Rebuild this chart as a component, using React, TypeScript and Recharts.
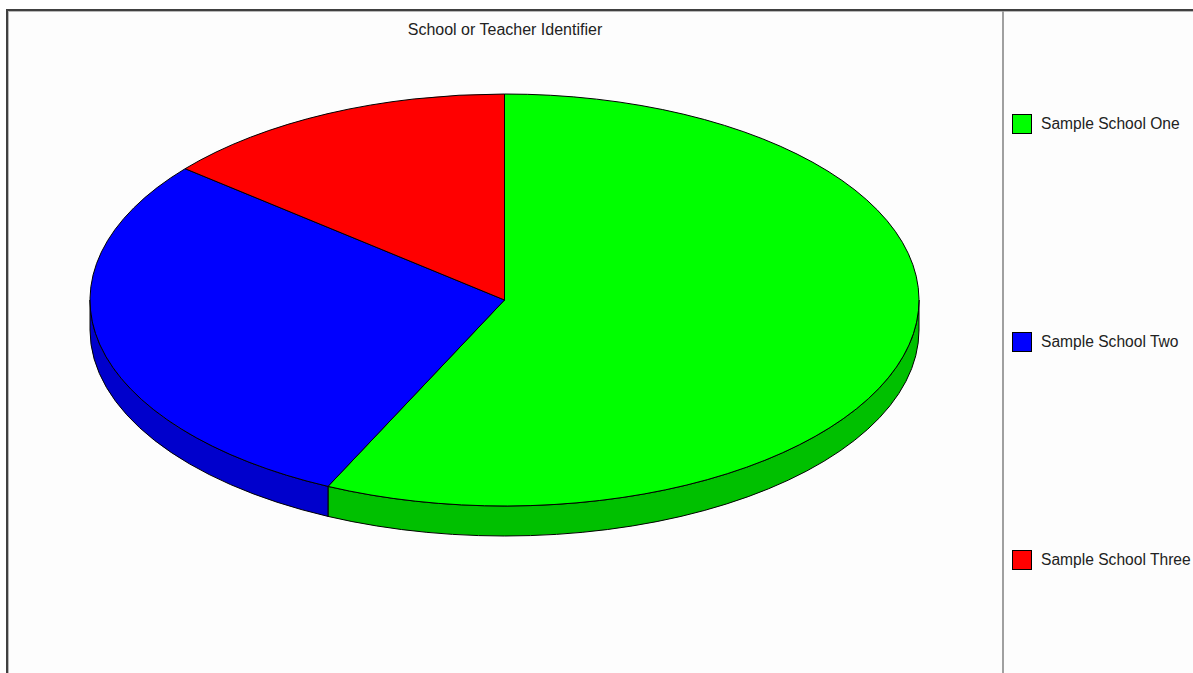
import React from 'react'
import { PieChart, Pie, Cell, Legend } from 'recharts'

const schools = ['Sample School One', 'Sample School Two', 'Sample School Three']
const shares = [57, 29, 14]
const topColors = ['#00ff00', '#0000ff', '#ff0000']
const sideColors = ['#00c000', '#0000cc', '#c00000']

const data = schools.map((name, i) => ({ name, value: shares[i] }))

// vertical squash of the pie and thickness of its rim
const TILT = 206 / 414.5
const DEPTH = 30
const RAD = Math.PI / 180

function pt(cx: number, cy: number, rx: number, ry: number, a: number) {
  return [cx + rx * Math.cos(a * RAD), cy - ry * Math.sin(a * RAD)]
}

function Slice3D(props: any) {
  const { cx, cy, outerRadius, startAngle, endAngle, index } = props
  const rx = outerRadius
  const ry = outerRadius * TILT
  const hi = Math.max(startAngle, endAngle)
  const lo = Math.min(startAngle, endAngle)

  // front half of the rim is visible where sin(angle) < 0
  const sides: string[] = []
  for (let k = -2; k <= 1; k++) {
    const a = Math.max(lo, -180 + 360 * k)
    const b = Math.min(hi, 360 * k)
    if (b - a <= 0.01) continue
    const [x1, y1] = pt(cx, cy, rx, ry, b)
    const [x2, y2] = pt(cx, cy, rx, ry, a)
    const large = b - a > 180 ? 1 : 0
    sides.push(
      `M${x1},${y1} A${rx},${ry} 0 ${large} 1 ${x2},${y2} L${x2},${y2 + DEPTH} A${rx},${ry} 0 ${large} 0 ${x1},${y1 + DEPTH} Z`
    )
  }

  const [sx, sy] = pt(cx, cy, rx, ry, hi)
  const [ex, ey] = pt(cx, cy, rx, ry, lo)
  const large = hi - lo > 180 ? 1 : 0
  const top = `M${cx},${cy} L${sx},${sy} A${rx},${ry} 0 ${large} 1 ${ex},${ey} Z`

  return (
    <g>
      {sides.map((d, i) => (
        <path key={i} d={d} fill={sideColors[index]} stroke="#000" strokeWidth={1} />
      ))}
      <path d={top} fill={topColors[index]} stroke="#000" strokeWidth={1} />
    </g>
  )
}

function LegendBox(props: any) {
  const items = [...(props.payload || [])].sort(
    (a: any, b: any) => schools.indexOf(a.value) - schools.indexOf(b.value)
  )
  return (
    <div
      style={{
        height: 654,
        display: 'flex',
        flexDirection: 'column',
        justifyContent: 'space-around'
      }}
    >
      {items.map((entry: any) => (
        <div key={entry.value} style={{ display: 'flex', alignItems: 'center', height: 20 }}>
          <span
            style={{
              width: 18,
              height: 18,
              background: entry.color,
              border: '1px solid #000',
              display: 'inline-block'
            }}
          />
          <span style={{ marginLeft: 9, fontSize: 15.6, color: '#222', whiteSpace: 'nowrap' }}>
            {entry.value}
          </span>
        </div>
      ))}
    </div>
  )
}

export default function App() {
  return (
    <div
      style={{
        position: 'absolute',
        left: 0,
        top: 0,
        width: 1193,
        height: 673,
        overflow: 'hidden',
        background: '#fff',
        fontFamily: '"Liberation Sans", Arial, sans-serif'
      }}
    >
      <div
        style={{
          position: 'absolute',
          left: 6,
          top: 9,
          width: 1400,
          height: 900,
          borderTop: '2px solid #404040',
          borderLeft: '2px solid #404040',
          boxShadow: 'inset 1px 1px 0 #b8b8b8',
          background: '#fdfdfd'
        }}
      />
      <div
        style={{
          position: 'absolute',
          left: 1002,
          top: 11,
          width: 2,
          height: 700,
          background: '#a0a0a0'
        }}
      />
      <div
        style={{
          position: 'absolute',
          left: 8,
          width: 994,
          top: 21,
          textAlign: 'center',
          fontSize: 16,
          color: '#222'
        }}
      >
        School or Teacher Identifier
      </div>
      <div style={{ position: 'absolute', left: 0, top: 0 }}>
        <PieChart width={1193} height={673} margin={{ top: 0, right: 0, bottom: 0, left: 0 }}>
          <Pie
            data={data}
            dataKey="value"
            nameKey="name"
            cx={504.5}
            cy={300}
            outerRadius={414.5}
            startAngle={90}
            endAngle={-270}
            stroke="#000"
            shape={Slice3D}
            isAnimationActive={false}
          >
            {data.map((d, i) => (
              <Cell key={d.name} fill={topColors[i]} />
            ))}
          </Pie>
          <Legend
            layout="vertical"
            verticalAlign="middle"
            align="right"
            content={LegendBox}
            wrapperStyle={{ left: 1012, right: 'auto', top: 15, width: 181 }}
          />
        </PieChart>
      </div>
    </div>
  )
}
